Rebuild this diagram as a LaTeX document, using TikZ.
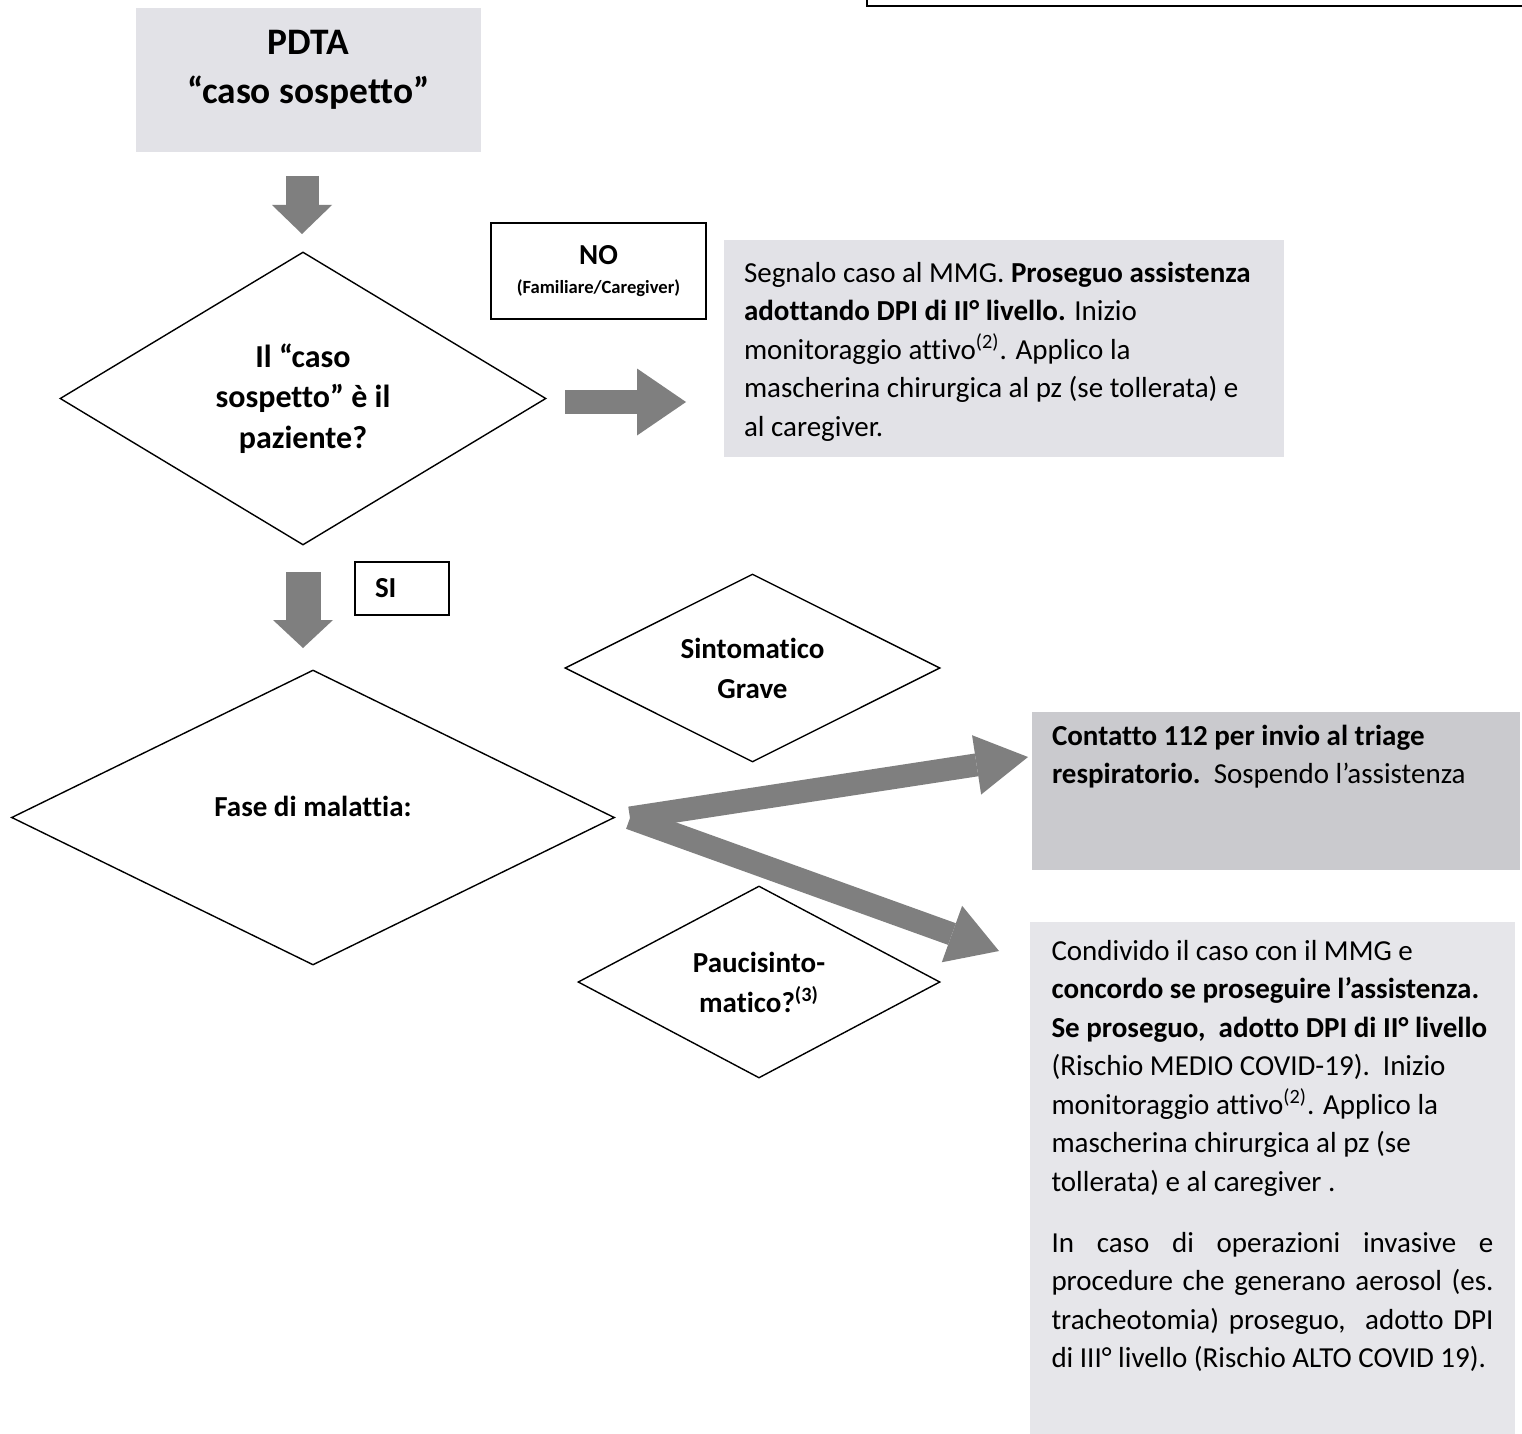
\documentclass[tikz,border=0pt]{standalone}
\usepackage{fontspec}
\setmainfont{Carlito}[Ligatures={NoCommon}]
\usetikzlibrary{shapes.geometric,arrows.meta}
\definecolor{arrowgray}{RGB}{127,127,127}
\definecolor{boxgray}{RGB}{226,226,231}
\definecolor{darkbox}{RGB}{202,202,206}
\definecolor{lightbox}{RGB}{230,230,234}
\newcommand\boxtxt[4]{\parbox[c][#1][t]{#2}{\vspace*{#3}#4}}
\begin{document}
\begin{tikzpicture}[x=0.5pt,y=-0.5pt,
  body/.style={font=\fontsize{14.5pt}{19.25pt}\selectfont},
  dec/.style={diamond, aspect=2, draw, line width=0.7pt, inner sep=0pt, align=center,
    font=\bfseries\fontsize{14.5pt}{20pt}\selectfont},
  lbl/.style={draw, line width=1pt, fill=white, inner sep=0pt},
  fat/.style={draw=arrowgray, line width=#1, line cap=butt},
]
\useasboundingbox (0,0) rectangle (1522,1434);
\fill[white] (0,0) rectangle (1522,1434);

% partial box at top right
\node[draw, line width=1pt, minimum width=332pt, minimum height=60pt, inner sep=0pt,
  anchor=south west] (topbox) at (866,7) {};

% PDTA box
\node[fill=boxgray, minimum width=172.5pt, minimum height=72pt, inner sep=0pt] (pdta) at (308.5,80)
  {\boxtxt{72pt}{172.5pt}{11pt}{\centering\bfseries\fontsize{18.7pt}{24.5pt}\selectfont PDTA\\“caso sospetto”}};

% decision 1
\node[dec, minimum width=243pt, minimum height=146.5pt,
  font=\bfseries\fontsize{16pt}{20.25pt}\selectfont] (q1) at (303,398.5)
  {Il “caso\\sospetto” è il\\paziente?};

% NO label
\node[lbl, minimum width=107.5pt, minimum height=48pt, align=center,
  font=\bfseries\fontsize{9.3pt}{14.5pt}\selectfont] (no) at (598.5,271)
  {{\fontsize{14.5pt}{14.5pt}\selectfont NO}\\(Familiare/Caregiver)};

% box 2
\node[fill=boxgray, minimum width=280pt, minimum height=108.5pt, inner sep=0pt, body] (b2) at (1004,348.5)
  {\boxtxt{108.5pt}{260pt}{11pt}{%
  \mbox{Segnalo caso al MMG. \textbf{Proseguo assistenza}}\\
  \mbox{\textbf{adottando DPI di II° livello.} Inizio}\\
  \mbox{monitoraggio attivo\textsuperscript{(2)}. Applico la}\\
  \mbox{mascherina chirurgica al pz (se tollerata) e}\\
  \mbox{al caregiver.}}};

% SI label
\node[lbl, minimum width=47pt, minimum height=26.5pt, align=left, text width=27pt, inner xsep=10pt,
  font=\bfseries\fontsize{14.5pt}{17pt}\selectfont] (si) at (402,588.5) {SI};

% decision: fase di malattia
\node[dec, minimum width=301.5pt, minimum height=147.5pt] (fase) at (313,817.5)
  {Fase di malattia:\\[-9pt]\mbox{}};

% sintomatico grave
\node[dec, minimum width=187.5pt, minimum height=94pt] (grave) at (752.5,668)
  {Sintomatico\\Grave};

% paucisintomatico
\node[dec, minimum width=181pt, minimum height=96pt] (pauci) at (759,982)
  {Paucisinto-\\matico?\textsuperscript{(3)}};

% box 3
\node[fill=darkbox, minimum width=244pt, minimum height=79pt, inner sep=0pt, body] (b3) at (1276,791)
  {\boxtxt{79pt}{224pt}{6.5pt}{%
  \mbox{\textbf{Contatto 112 per invio al triage}}\\
  \mbox{\textbf{respiratorio.}\ \ Sospendo l’assistenza}}};

% box 4
\node[fill=lightbox, minimum width=242.5pt, minimum height=264pt, inner sep=0pt, body] (b4) at (1272.5,1186)
  {\boxtxt{264pt}{221pt}{9pt}{%
  \mbox{Condivido il caso con il MMG e}\\
  \mbox{\textbf{concordo se proseguire l’assistenza.}}\\
  \mbox{\textbf{Se proseguo,\ \ adotto DPI di II° livello}}\\
  \mbox{(Rischio MEDIO COVID-19).\ \ Inizio}\\
  \mbox{monitoraggio attivo\textsuperscript{(2)}. Applico la}\\
  \mbox{mascherina chirurgica al pz (se}\\
  \mbox{tollerata) e al caregiver .}\par
  \vspace{11.25pt}
  \noindent\makebox[\linewidth][s]{In caso di operazioni invasive e}\\
  \makebox[\linewidth][s]{procedure che generano aerosol (es.}\\
  \makebox[\linewidth][s]{tracheotomia) proseguo,\ \ adotto DPI}\\
  \mbox{di III° livello (Rischio ALTO COVID 19).}}};

% connector coordinates
\coordinate (a1s) at (302,176);
\coordinate (a1e) at (302,234);
\coordinate (a2s) at (565,402);
\coordinate (a2e) at (686,402);
\coordinate (a3s) at (303,572);
\coordinate (a3e) at (303,648);
\coordinate (ft) at (630,818);
\coordinate (t1) at (1028,757);
\coordinate (t2) at (999,951);

% arrows
\draw[fat=16.5pt, -{Triangle[length=14.5pt,width=30pt,line width=0pt]}] (a1s) -- (a1e);
\draw[fat=12pt, -{Triangle[length=24.5pt,width=33.5pt,line width=0pt]}] (a2s) -- (a2e);
\draw[fat=17.5pt, -{Triangle[length=14pt,width=30pt,line width=0pt]}] (a3s) -- (a3e);
\draw[fat=11.5pt, -{Triangle[length=26pt,width=30pt,line width=0pt]}] (ft) -- (t1);
\draw[fat=11.5pt, -{Triangle[length=25pt,width=30pt,line width=0pt]}] (ft) -- (t2);
\end{tikzpicture}
\end{document}
